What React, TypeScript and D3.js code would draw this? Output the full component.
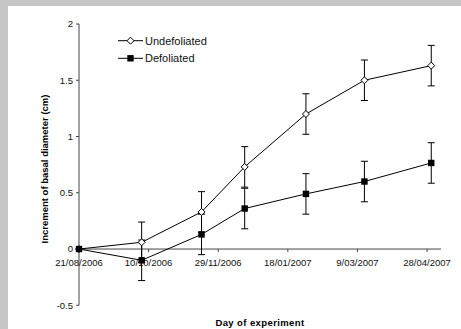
import { useEffect, useRef } from 'react';
import * as d3 from 'd3';

// sampling dates of the experiment
const sampleDates = ['21/08/2006', '5/10/2006', '17/11/2006', '18/12/2006', '31/01/2007', '14/03/2007', '1/05/2007'];
const undefoliated = [0, 0.06, 0.33, 0.73, 1.2, 1.5, 1.63];
const undefoliatedErr = [0, 0.18, 0.18, 0.18, 0.18, 0.18, 0.18];
const defoliated = [0, -0.1, 0.13, 0.36, 0.49, 0.6, 0.765];
const defoliatedErr = [0, 0.18, 0.18, 0.18, 0.18, 0.18, 0.18];

const xTickLabels = ['21/08/2006', '10/10/2006', '29/11/2006', '18/01/2007', '9/03/2007', '28/04/2007'];
const xAxisEnd = '8/05/2007';
const yTicks = [-0.5, 0, 0.5, 1, 1.5, 2];

const parse = d3.utcParse('%d/%m/%Y');

export default function App() {
  const svgRef = useRef<SVGSVGElement>(null);

  useEffect(() => {
    if (!svgRef.current) return;
    const svg = d3.select(svgRef.current);
    svg.selectAll('*').remove();

    const width = 461;
    const height = 329;
    const font = 'Arial, "Liberation Sans", sans-serif';

    // grey backdrop and white chart area
    svg.append('rect').attr('width', width).attr('height', height).attr('fill', '#c6c6c6');
    svg.append('rect').attr('x', 8).attr('y', 6).attr('width', width - 8).attr('height', height - 6).attr('fill', '#fff');

    const x = d3
      .scaleUtc()
      .domain([parse(sampleDates[0])!, parse(xAxisEnd)!])
      .range([79, 441]);
    const y = d3.scaleLinear().domain([-0.5, 2]).range([305.3, 24]);

    const g = svg.append('g');

    // y axis
    g.append('line')
      .attr('x1', x.range()[0]).attr('x2', x.range()[0])
      .attr('y1', y(2)).attr('y2', y(-0.5))
      .attr('stroke', '#444').attr('stroke-width', 1);
    yTicks.forEach((t) => {
      g.append('line')
        .attr('x1', x.range()[0] - 3).attr('x2', x.range()[0])
        .attr('y1', y(t)).attr('y2', y(t))
        .attr('stroke', '#444');
      g.append('text')
        .attr('x', x.range()[0] - 6).attr('y', y(t))
        .attr('dy', '0.35em')
        .attr('text-anchor', 'end')
        .style('font-family', font).style('font-size', '9.5px')
        .attr('fill', '#111')
        .text(String(t));
    });

    // x axis at zero
    g.append('line')
      .attr('x1', x.range()[0]).attr('x2', x.range()[1])
      .attr('y1', y(0)).attr('y2', y(0))
      .attr('stroke', '#444');
    xTickLabels.forEach((lab) => {
      const px = x(parse(lab)!);
      g.append('line')
        .attr('x1', px).attr('x2', px)
        .attr('y1', y(0)).attr('y2', y(0) + 3)
        .attr('stroke', '#444');
      g.append('text')
        .attr('x', px).attr('y', y(0) + 17)
        .attr('text-anchor', 'middle')
        .style('font-family', font).style('font-size', '9.5px')
        .attr('fill', '#111')
        .text(lab);
    });

    // axis titles
    g.append('text')
      .attr('transform', `translate(48,169) rotate(-90)`)
      .attr('text-anchor', 'middle')
      .style('font-family', font).style('font-size', '9.5px').style('font-weight', 'bold')
      .text('Increment of basal diameter (cm)');
    g.append('text')
      .attr('x', 260).attr('y', 326)
      .attr('text-anchor', 'middle')
      .style('font-family', font).style('font-size', '9.5px').style('font-weight', 'bold')
      .style('letter-spacing', '0.4px')
      .text('Day of experiment');

    const series = [
      { name: 'Undefoliated', values: undefoliated, err: undefoliatedErr, filled: false },
      { name: 'Defoliated', values: defoliated, err: defoliatedErr, filled: true },
    ];

    const line = d3
      .line<number>()
      .x((_, i) => x(parse(sampleDates[i])!))
      .y((v) => y(v));

    series.forEach((s) => {
      // error bars
      s.values.forEach((v, i) => {
        if (!s.err[i]) return;
        const px = x(parse(sampleDates[i])!);
        const top = y(v + s.err[i]);
        const bot = y(v - s.err[i]);
        g.append('line').attr('x1', px).attr('x2', px).attr('y1', top).attr('y2', bot).attr('stroke', '#000');
        [top, bot].forEach((cy) => {
          g.append('line').attr('x1', px - 3.5).attr('x2', px + 3.5).attr('y1', cy).attr('y2', cy).attr('stroke', '#000');
        });
      });

      g.append('path')
        .datum(s.values)
        .attr('d', line)
        .attr('fill', 'none')
        .attr('stroke', '#000')
        .attr('stroke-width', 1);
    });

    const marker = (sel: d3.Selection<SVGGElement, unknown, null, undefined>, filled: boolean, cx: number, cy: number) => {
      if (filled) {
        sel.append('rect')
          .attr('x', cx - 3.2).attr('y', cy - 3.2)
          .attr('width', 6.4).attr('height', 6.4)
          .attr('fill', '#000');
      } else {
        sel.append('path')
          .attr('d', `M${cx},${cy - 3.5}L${cx + 3.5},${cy}L${cx},${cy + 3.5}L${cx - 3.5},${cy}Z`)
          .attr('fill', '#fff')
          .attr('stroke', '#000')
          .attr('stroke-width', 1);
      }
    };

    series.forEach((s) => {
      s.values.forEach((v, i) => {
        marker(g, s.filled, x(parse(sampleDates[i])!), y(v));
      });
    });

    // legend
    const legend = g.append('g');
    series.forEach((s, i) => {
      const ly = 40.7 + i * 17.6;
      legend.append('line').attr('x1', 118).attr('x2', 143).attr('y1', ly).attr('y2', ly).attr('stroke', '#000');
      marker(legend, s.filled, 130.5, ly);
      legend.append('text')
        .attr('x', 145).attr('y', ly)
        .attr('dy', '0.36em')
        .style('font-family', font).style('font-size', '11px')
        .attr('fill', '#111')
        .text(s.name);
    });
  }, []);

  return (
    <svg
      ref={svgRef}
      width={461}
      height={329}
      style={{ position: 'absolute', left: 0, top: 0, display: 'block' }}
    ></svg>
  );
}
